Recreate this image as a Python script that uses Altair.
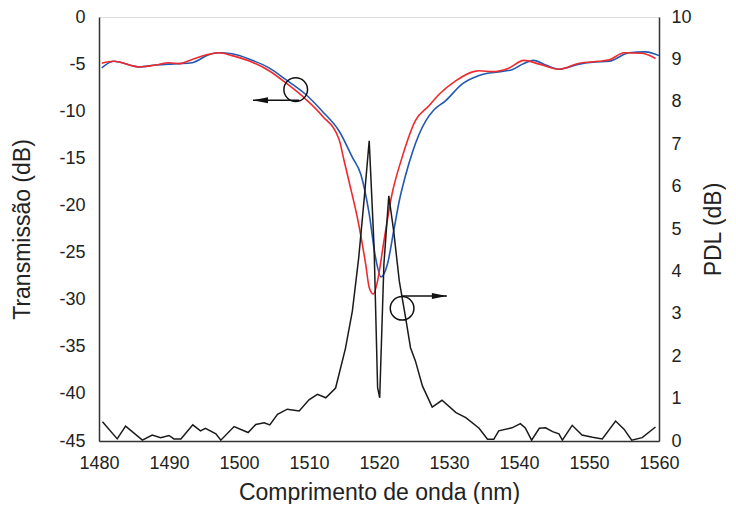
import altair as alt
import pandas as pd

# Transmission curve 1 (blue)
blue_x = [1480.4, 1482.1, 1485.7, 1488.1, 1490.0, 1491.4, 1493.3, 1495.7, 1497.1, 1499.0,
          1501.9, 1504.3, 1506.7, 1509.5, 1511.9, 1514.3, 1516.2, 1517.4, 1518.6, 1519.5,
          1520.3, 1521.2, 1522.1, 1522.9, 1523.8, 1524.8, 1525.7, 1526.7, 1527.8, 1529.5,
          1531.9, 1534.3, 1536.7, 1539.0, 1540.5, 1542.1, 1543.8, 1545.7, 1548.6, 1550.5,
          1552.9, 1555.7, 1558.1, 1560.0]
blue_y = [-5.4, -4.7, -5.3, -5.1, -5.0, -4.95, -4.85, -4.0, -3.8, -3.9,
          -4.6, -5.4, -6.65, -8.2, -10.0, -12.1, -14.9, -16.7, -20.9, -25.5,
          -27.6, -26.25, -22.7, -19.5, -16.8, -14.3, -12.5, -11.0, -9.9, -8.9,
          -7.1, -6.2, -5.85, -5.6, -5.0, -4.6, -5.1, -5.55, -5.0, -4.8,
          -4.7, -3.8, -3.7, -4.1]

# Transmission curve 2 (red)
red_x = [1480.4, 1482.1, 1485.7, 1488.1, 1490.0, 1491.4, 1493.3, 1495.7, 1497.1, 1499.0,
         1501.9, 1504.3, 1506.7, 1509.5, 1511.9, 1514.3, 1515.0, 1515.7, 1517.1, 1518.1,
         1518.6, 1519.2, 1519.8, 1520.7, 1521.8, 1523.3, 1525.2, 1527.1, 1528.6, 1530.9,
         1534.3, 1536.2, 1538.6, 1540.7, 1542.9, 1545.7, 1548.6, 1551.4, 1552.9, 1555.0,
         1557.6, 1559.5]
red_y = [-4.9, -4.7, -5.3, -5.1, -4.85, -4.95, -4.5, -3.96, -3.8, -4.1,
         -4.8, -5.7, -7.0, -8.7, -10.5, -13.0, -15.2, -17.4, -22.0, -26.25,
         -28.7, -29.4, -28.0, -23.8, -19.0, -14.9, -11.0, -9.45, -8.2, -6.8,
         -5.7, -5.8, -5.4, -4.6, -5.0, -5.55, -4.9, -4.7, -4.55, -3.8,
         -3.85, -4.4]

# PDL (black), right axis
pdl_x = [1480.5, 1482.6, 1483.8, 1486.2, 1487.6, 1488.8, 1490.0, 1490.7, 1491.7, 1493.4,
         1494.5, 1495.2, 1496.7, 1497.4, 1499.3, 1501.3, 1502.4, 1503.6, 1504.4, 1505.5,
         1506.9, 1508.6, 1510.0, 1511.2, 1512.4, 1513.8, 1515.2, 1516.2, 1517.1, 1517.9,
         1518.6, 1519.3, 1519.8, 1520.1, 1520.7, 1521.4, 1522.1, 1522.9, 1523.8, 1524.5,
         1525.2, 1526.2, 1527.6, 1529.0, 1531.0, 1532.4, 1534.3, 1535.5, 1536.4, 1537.1,
         1539.0, 1540.2, 1540.9, 1541.8, 1542.9, 1543.8, 1544.8, 1545.7, 1546.2, 1547.6,
         1549.0, 1550.5, 1551.9, 1553.8, 1555.0, 1556.1, 1557.6, 1559.5]
pdl_y = [0.455, 0.05, 0.35, 0.02, 0.14, 0.08, 0.13, 0.05, 0.05, 0.38,
         0.24, 0.30, 0.17, 0.02, 0.34, 0.20, 0.39, 0.43, 0.38, 0.63,
         0.75, 0.71, 0.97, 1.10, 1.02, 1.25, 2.18, 3.07, 4.32, 5.74,
         7.08, 4.56, 1.26, 1.02, 4.17, 5.78, 4.95, 3.77, 2.91, 2.2,
         1.89, 1.30, 0.80, 0.96, 0.67, 0.55, 0.30, 0.04, 0.04, 0.24,
         0.31, 0.41, 0.31, 0.02, 0.30, 0.31, 0.22, 0.17, 0.02, 0.37,
         0.14, 0.09, 0.05, 0.47, 0.28, 0.02, 0.08, 0.33]

# Annotations (data units)
circ_left = {"x": 1508.1, "y": -7.7}
arrow_left = {"x": 1508.6, "x2": 1502.0, "y": -8.84}
circ_right = {"x": 1523.3, "y": 3.13}
arrow_right = {"x": 1523.3, "x2": 1529.7, "y": 3.42}

FONT = "Liberation Sans"
XDOM = [1480, 1560]
TXT = "#222"

common_axis = dict(ticks=False, grid=False, domainColor="#333", domainWidth=1.5,
                   labelFontSize=18, titleFontSize=23, labelColor=TXT, titleColor=TXT,
                   titleFontWeight="normal", labelExpr="datum.value + ''")

trans = pd.concat([
    pd.DataFrame({"wl": blue_x, "T": blue_y, "s": "a"}),
    pd.DataFrame({"wl": red_x, "T": red_y, "s": "b"}),
])
pdl = pd.DataFrame({"wl": pdl_x, "P": pdl_y})

xs = alt.Scale(domain=XDOM, nice=False)
xenc = alt.X("wl:Q", scale=xs,
             axis=alt.Axis(title="Comprimento de onda (nm)", values=list(range(1480, 1561, 10)),
                           labelPadding=13, titlePadding=9, labelFlush=False, **common_axis))

yl_scale = alt.Scale(domain=[-45, 0], nice=False)
yr_scale = alt.Scale(domain=[0, 10], nice=False)

lines = alt.Chart(trans).mark_line(strokeWidth=1.6, interpolate="monotone").encode(
    x=xenc,
    y=alt.Y("T:Q", scale=yl_scale,
            axis=alt.Axis(title="Transmissão (dB)", values=list(range(-45, 1, 5)),
                          labelPadding=14, titlePadding=24, **common_axis)),
    color=alt.Color("s:N", scale=alt.Scale(domain=["a", "b"], range=["#2358b0", "#ee2a2e"]),
                    legend=None),
    detail="s:N",
)

ann_l = pd.DataFrame([circ_left])
arr_l = pd.DataFrame([arrow_left])
circle_l = alt.Chart(ann_l).mark_point(shape="circle", size=560, filled=False, color="#111",
                                       strokeWidth=1.5, opacity=1).encode(
    x=alt.X("x:Q", scale=xs), y=alt.Y("y:Q", scale=yl_scale))
rule_l = alt.Chart(arr_l).mark_rule(color="#111", strokeWidth=1.5).encode(
    x=alt.X("x:Q", scale=xs), x2="x2:Q", y=alt.Y("y:Q", scale=yl_scale))
head_l = alt.Chart(arr_l).mark_point(shape="M0,0 L2,-0.4 L2,0.4 Z", size=225, filled=True,
                                     color="#111", opacity=1).encode(
    x=alt.X("x2:Q", scale=xs), y=alt.Y("y:Q", scale=yl_scale))

left = alt.layer(lines, circle_l, rule_l, head_l)

pdl_line = alt.Chart(pdl).mark_line(color="#1a1a1a", strokeWidth=1.5).encode(
    x=alt.X("wl:Q", scale=xs),
    y=alt.Y("P:Q", scale=yr_scale,
            axis=alt.Axis(title="PDL (dB)", orient="right", values=list(range(0, 11)),
                          labelPadding=12, titlePadding=34, titleAngle=270, **common_axis)),
)
ann_r = pd.DataFrame([circ_right])
arr_r = pd.DataFrame([arrow_right])
circle_r = alt.Chart(ann_r).mark_point(shape="circle", size=560, filled=False, color="#111",
                                       strokeWidth=1.5, opacity=1).encode(
    x=alt.X("x:Q", scale=xs), y=alt.Y("y:Q", scale=yr_scale))
rule_r = alt.Chart(arr_r).mark_rule(color="#111", strokeWidth=1.5).encode(
    x=alt.X("x:Q", scale=xs), x2="x2:Q", y=alt.Y("y:Q", scale=yr_scale))
head_r = alt.Chart(arr_r).mark_point(shape="M0,0 L-2,-0.4 L-2,0.4 Z", size=225, filled=True,
                                     color="#111", opacity=1).encode(
    x=alt.X("x2:Q", scale=xs), y=alt.Y("y:Q", scale=yr_scale))

right = alt.layer(pdl_line, circle_r, rule_r, head_r)

chart = alt.layer(left, right).resolve_scale(y="independent").properties(
    width=560, height=424, padding={"left": 3, "top": 0, "right": 0, "bottom": 0},
    background="white",
).configure_view(stroke="#333", strokeWidth=1.5).configure(font=FONT)

chart.save("out.html", embed_options={"renderer": "svg", "actions": False})
